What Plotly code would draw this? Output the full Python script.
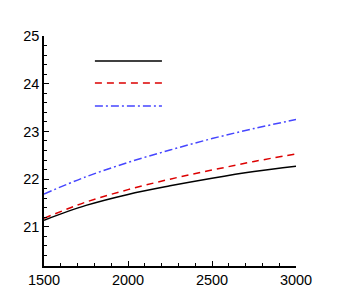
import plotly.graph_objects as go

x_vals = [1500, 1750, 2000, 2250, 2500, 2750, 3000]
black_vals = [21.14, 21.45, 21.68, 21.86, 22.02, 22.16, 22.27]
red_vals = [21.18, 21.52, 21.78, 22.00, 22.19, 22.37, 22.53]
blue_vals = [21.69, 22.05, 22.35, 22.61, 22.85, 23.06, 23.25]

series = [
    (black_vals, "black", "solid"),
    (red_vals, "rgb(220,0,0)", "7px,5px"),
    (blue_vals, "rgb(70,70,255)", "8px,3px,2px,3px"),
]

fig = go.Figure()
for vals, color, dash in series:
    fig.add_trace(go.Scatter(x=x_vals, y=vals, mode="lines",
                             line=dict(color=color, width=1.5, dash=dash, shape="spline"),
                             showlegend=False))

# legend samples (no text)
leg_y = [0.891, 0.796, 0.696]
for (vals, color, dash), yy in zip(series, leg_y):
    fig.add_shape(type="line", xref="paper", yref="paper", x0=0.202, x1=0.468, y0=yy, y1=yy,
                  line=dict(color=color, width=1.5, dash=dash))

axis_common = dict(showgrid=False, zeroline=False, showline=True, linecolor="black", linewidth=1.5,
                   ticks="inside", ticklen=5, tickwidth=1, tickcolor="black",
                   tickfont=dict(family="Liberation Sans, Arial", size=14.5, color="black"))

fig.update_xaxes(range=[1500, 3000], tickvals=[1500, 2000, 2500, 3000],
                 minor=dict(ticks="inside", dtick=100, tick0=1500, ticklen=3, tickcolor="black"),
                 **axis_common)
fig.update_yaxes(range=[20.18, 25], tickvals=[21, 22, 23, 24, 25],
                 minor=dict(ticks="inside", dtick=0.2, tick0=21, ticklen=3, tickcolor="black"),
                 **axis_common)

fig.update_layout(width=337, height=300, margin=dict(l=36, r=49, t=28, b=42),
                  plot_bgcolor="white", paper_bgcolor="white")

fig.write_html("out.html")
